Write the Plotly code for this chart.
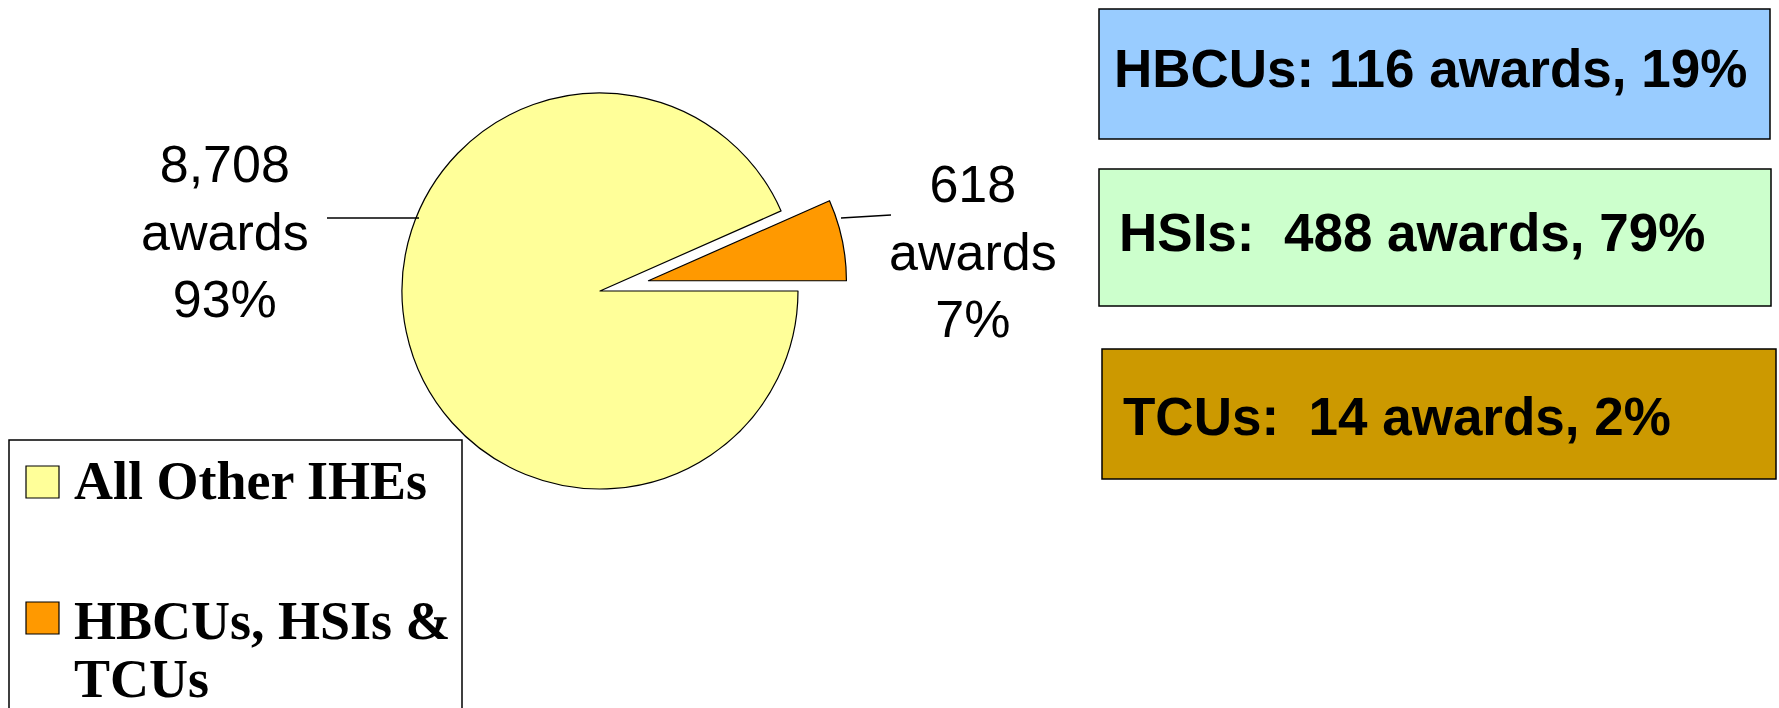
import plotly.graph_objects as go

# ---- data ----
categories = ["All Other IHEs", "HBCUs, HSIs & TCUs"]
awards = [8708, 618]
percent_labels = ["93%", "7%"]
slice_colors = ["#FFFF99", "#FF9900"]
legend_lines = [["All Other IHEs"], ["HBCUs, HSIs &", "TCUs"]]

breakdown_names = ["HBCUs", "HSIs", "TCUs"]
breakdown_awards = [116, 488, 14]
breakdown_pct = ["19%", "79%", "2%"]
breakdown_colors = ["#99CCFF", "#CCFFCC", "#CC9900"]

W, H = 1779, 708


def px(x):
    return x / W


def py(y):
    return 1 - y / H


fig = go.Figure()
fig.add_trace(go.Pie(
    labels=categories,
    values=awards,
    marker=dict(colors=slice_colors, line=dict(color="black", width=1.2)),
    pull=[0, 0.25],
    sort=False,
    direction="clockwise",
    rotation=90,
    textinfo="none",
    hoverinfo="label+value+percent",
    showlegend=False,
    domain=dict(x=[px(352.5), px(847.5)], y=[py(538.5), py(43.5)]),
))

shapes = []
annotations = []

# slice labels with leader lines
label_pos = [(225, 232), (973, 251)]
leaders = [((327, 218), (419, 218)), ((841, 218), (891, 215))]
for i in range(len(categories)):
    txt = f"{awards[i]:,}<br>awards<br>{percent_labels[i]}"
    annotations.append(dict(
        x=px(label_pos[i][0]), y=py(label_pos[i][1]), xref="paper", yref="paper",
        text=txt, showarrow=False, xanchor="center", yanchor="middle",
        font=dict(family="Liberation Sans, Arial, sans-serif", size=52, color="black"),
    ))
    (x0, y0), (x1, y1) = leaders[i]
    shapes.append(dict(type="line", xref="paper", yref="paper",
                       x0=px(x0), y0=py(y0), x1=px(x1), y1=py(y1),
                       line=dict(color="black", width=1.5)))

# breakdown boxes
boxes = [(1099, 9, 1770, 139), (1099, 169, 1771, 306), (1102, 349, 1776, 479)]
text_x = [1112, 1117, 1121]
text_y = [69, 233, 416]
sep = [" ", "\u00a0 ", "\u00a0 "]
for i in range(len(breakdown_names)):
    x0, y0, x1, y1 = boxes[i]
    shapes.append(dict(type="rect", xref="paper", yref="paper",
                       x0=px(x0), y0=py(y0), x1=px(x1), y1=py(y1),
                       fillcolor=breakdown_colors[i], line=dict(color="black", width=1.5),
                       layer="below"))
    txt = f"{breakdown_names[i]}:{sep[i]}{breakdown_awards[i]} awards, {breakdown_pct[i]}"
    annotations.append(dict(
        x=px(text_x[i]), y=py(text_y[i]), xref="paper", yref="paper",
        text=f"<b>{txt}</b>", showarrow=False, xanchor="left", yanchor="middle",
        font=dict(family="Liberation Sans, Arial, sans-serif", size=53, color="black"),
    ))

# custom legend
shapes.append(dict(type="rect", xref="paper", yref="paper",
                   x0=px(9), y0=py(440), x1=px(462), y1=py(730),
                   fillcolor="white", line=dict(color="black", width=1.5), layer="below"))
swatches = [(466, 498), (602, 634)]
line_centers = [[481], [621, 679]]
for i in range(len(categories)):
    sy0, sy1 = swatches[i]
    shapes.append(dict(type="rect", xref="paper", yref="paper",
                       x0=px(26), y0=py(sy0), x1=px(59), y1=py(sy1),
                       fillcolor=slice_colors[i], line=dict(color="black", width=1.2)))
    for line_txt, cy in zip(legend_lines[i], line_centers[i]):
        annotations.append(dict(
            x=px(72), y=py(cy), xref="paper", yref="paper",
            text=f"<b>{line_txt}</b>", showarrow=False, xanchor="left", yanchor="middle",
            font=dict(family="Liberation Serif, Times New Roman, serif", size=54, color="black"),
        ))

fig.update_layout(
    width=W, height=H,
    margin=dict(l=0, r=0, t=0, b=0),
    paper_bgcolor="white", plot_bgcolor="white",
    shapes=shapes, annotations=annotations,
    showlegend=False,
)

fig.write_html("out.html", config={"displayModeBar": False},
               post_script="document.body.style.margin='0';document.body.style.overflow='hidden';")
